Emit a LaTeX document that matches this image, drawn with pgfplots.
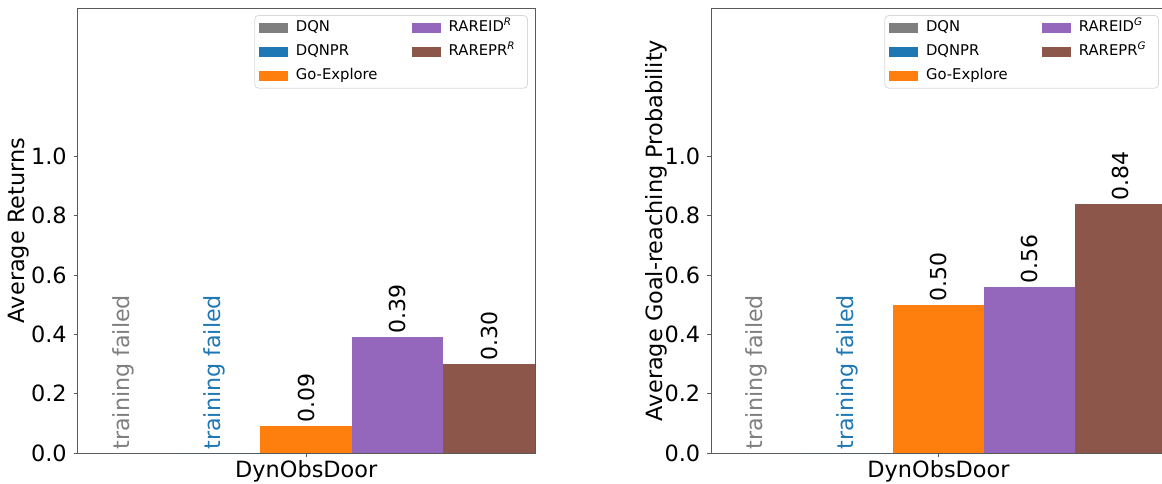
\documentclass[border=0pt]{standalone}
\usepackage{fontspec}
\setmainfont{DejaVu Sans}
\usepackage{pgfplots}
\pgfplotsset{compat=1.18}
\definecolor{cgray}{HTML}{7F7F7F}
\definecolor{cblue}{HTML}{1F77B4}
\definecolor{corange}{HTML}{FF7F0E}
\definecolor{cpurple}{HTML}{9467BD}
\definecolor{cbrown}{HTML}{8C564B}
\pgfplotsset{
  mylegend/.style={legend image code/.code={\fill[##1, sharp corners] (0pt,-2.6pt) rectangle (14.6pt,2.6pt);}},
  valnodes/.style={nodes near coords={\pgfmathprintnumber[fixed,fixed zerofill,precision=2]{\pgfplotspointmeta}},
    every node near coord/.append style={rotate=90, anchor=west, inner sep=1.5pt, text=black, font=\fontsize{11}{12}\selectfont}},
  failnode/.style={nodes near coords={training failed},
    every node near coord/.append style={rotate=90, anchor=west, inner sep=1.5pt, text=#1, font=\fontsize{11.1}{12}\selectfont}},
  common/.style={
    scale only axis, height=222.5pt,
    anchor=south west,
    xmin=-2.5, xmax=2.5, ymin=0, ymax=1.5,
    ytick={0,0.2,0.4,0.6,0.8,1.0},
    yticklabel style={/pgf/number format/fixed, /pgf/number format/fixed zerofill, /pgf/number format/precision=1},
    xtick={0}, xticklabels={DynObsDoor},
    xticklabel style={yshift=1.8pt},
    tick align=outside, tick pos=left,
    major tick length=1.9pt,
    axis line style={black!65}, tick style={black!65, line width=0.4pt},
    /pgf/number format/assume math mode=true,
    tick label style={font=\fontsize{11.2}{13}\selectfont},
    ybar, bar width=1, bar shift=0pt,
    legend columns=2,
    legend cell align=left,
    legend style={at={(rel axis cs:1,1)}, anchor=north east, xshift=-3.5pt, yshift=-3.5pt,
      draw=black!15, rounded corners=2pt, font=\fontsize{7.4}{8.5}\selectfont,
      inner xsep=2pt, inner ysep=2.4pt,
      nodes={inner xsep=4pt, inner ysep=0pt, text height=5.8pt, text depth=1.8pt},
      /tikz/every even column/.append style={column sep=13pt},
      row sep=4.4pt},
  }
}
\begin{document}
\begin{tikzpicture}[x=1pt,y=1pt]
\path[use as bounding box] (0,0) rectangle (581,241.5);
\begin{axis}[common, at={(38.75pt,15pt)}, width=228.75pt,
  ylabel={Average Returns},
  every axis y label/.style={at={([xshift=-29.5pt]rel axis cs:0,0.5)}, rotate=90, anchor=center, font=\fontsize{11.2}{13}\selectfont}]
\addplot[mylegend, fill=cgray, draw=none, failnode=cgray] coordinates {(-2,0)};
\addlegendentry{DQN}
\addplot[mylegend, fill=cpurple, draw=none, valnodes] coordinates {(1,0.39)};
\addlegendentry{RAREID\textsuperscript{\textit{R}}}
\addplot[mylegend, fill=cblue, draw=none, failnode=cblue] coordinates {(-1,0)};
\addlegendentry{DQNPR}
\addplot[mylegend, fill=cbrown, draw=none, valnodes] coordinates {(2,0.30)};
\addlegendentry{RAREPR\textsuperscript{\textit{R}}}
\addplot[mylegend, fill=corange, draw=none, valnodes] coordinates {(0,0.09)};
\addlegendentry{Go-Explore}
\end{axis}
\begin{axis}[common, at={(355.5pt,15pt)}, width=227.5pt,
  ylabel={Average Goal-reaching Probability},
  every axis y label/.style={at={([xshift=-27.5pt]rel axis cs:0,0.5)}, rotate=90, anchor=center, font=\fontsize{11.2}{13}\selectfont}]
\addplot[mylegend, fill=cgray, draw=none, failnode=cgray] coordinates {(-2,0)};
\addlegendentry{DQN}
\addplot[mylegend, fill=cpurple, draw=none, valnodes] coordinates {(1,0.56)};
\addlegendentry{RAREID\textsuperscript{\textit{G}}}
\addplot[mylegend, fill=cblue, draw=none, failnode=cblue] coordinates {(-1,0)};
\addlegendentry{DQNPR}
\addplot[mylegend, fill=cbrown, draw=none, valnodes] coordinates {(2,0.84)};
\addlegendentry{RAREPR\textsuperscript{\textit{G}}}
\addplot[mylegend, fill=corange, draw=none, valnodes] coordinates {(0,0.50)};
\addlegendentry{Go-Explore}
\end{axis}
\end{tikzpicture}
\end{document}
